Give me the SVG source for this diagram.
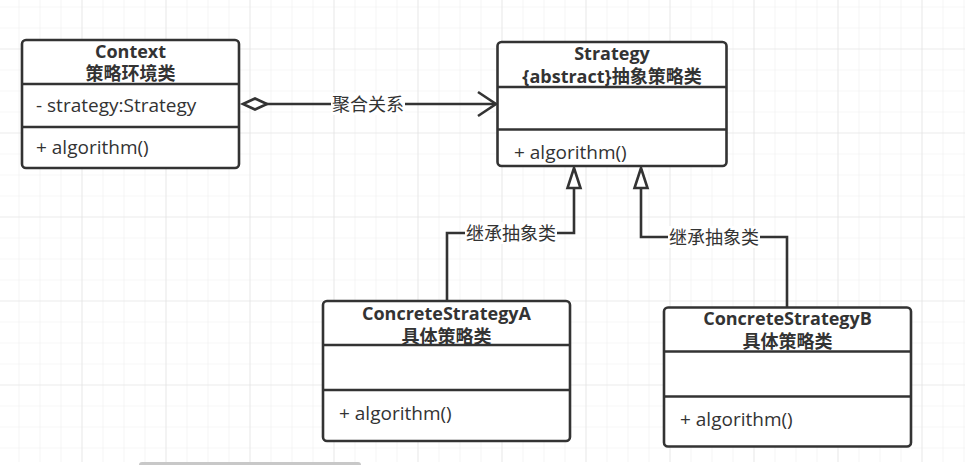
<svg xmlns="http://www.w3.org/2000/svg" width="965" height="465" viewBox="0 0 965 465">
<defs>
<pattern id="minor" x="18.5" y="6.5" width="21" height="21" patternUnits="userSpaceOnUse">
<path d="M0 0V21M0 0H21" fill="none" stroke="#efefef" stroke-width="1.2"/>
</pattern>
<pattern id="major" x="81.5" y="48.5" width="84" height="84" patternUnits="userSpaceOnUse">
<path d="M0 0V84M0 0H84" fill="none" stroke="#e2e2e2" stroke-width="1.2"/>
</pattern>
</defs>
<style>
.box{fill:#fff;stroke:#333;stroke-width:2.6}
.div{stroke:#333;stroke-width:2.6}
.t{font-family:"Open Sans","Noto Sans CJK SC",sans-serif;font-size:19px;fill:#333}
.b{font-weight:bold;text-anchor:middle;font-size:18px}
.conn{fill:none;stroke:#333;stroke-width:2.6}
.lbl{font-family:"Noto Sans CJK SC",sans-serif;font-size:18px;fill:#333;text-anchor:middle}
</style>
<rect width="965" height="465" fill="#fff"/>
<rect width="965" height="462" fill="url(#minor)"/>
<rect width="965" height="462" fill="url(#major)"/>
<rect x="139" y="462" width="222" height="6" rx="3" fill="#c8c8c8"/>

<g id="connectors">
<g id="aggregation">
<line class="conn" x1="266" y1="104" x2="496" y2="104"/>
<path d="M243 104 L255 98.5 L267 104 L255 109.5 Z" fill="#fff" stroke="#333" stroke-width="2.6"/>
<path class="conn" d="M478 92 L496 104 L478 116"/>
<rect x="331" y="93" width="74" height="22" fill="#fff"/>
<text class="lbl" x="368" y="110.5">聚合关系</text>
</g>
<g id="inheritA">
<path class="conn" d="M447 301 V233 H574 V188"/>
<path d="M574 168 L580.5 188 L567.5 188 Z" fill="#fff" stroke="#333" stroke-width="2.6"/>
<rect x="465" y="222" width="92" height="22" fill="#fff"/>
<text class="lbl" x="511" y="239.5">继承抽象类</text>
</g>
<g id="inheritB">
<path class="conn" d="M787 307 V237 H641 V188"/>
<path d="M641 168 L647.5 188 L634.5 188 Z" fill="#fff" stroke="#333" stroke-width="2.6"/>
<rect x="668" y="226" width="92" height="22" fill="#fff"/>
<text class="lbl" x="714" y="243.5">继承抽象类</text>
</g>
</g>

<g id="context">
<rect class="box" x="22" y="40" width="217" height="128" rx="4"/>
<line class="div" x1="22" y1="84" x2="239" y2="84"/>
<line class="div" x1="22" y1="127" x2="239" y2="127"/>
<text class="t b" x="130.5" y="58">Context</text>
<text class="t b" x="130.5" y="80">策略环境类</text>
<text class="t" x="36" y="112">- strategy:Strategy</text>
<text class="t" x="36" y="154">+ algorithm()</text>
</g>

<g id="strategy">
<rect class="box" x="497.5" y="42" width="229" height="124" rx="4"/>
<line class="div" x1="497.5" y1="87" x2="726.5" y2="87"/>
<line class="div" x1="497.5" y1="129.5" x2="726.5" y2="129.5"/>
<text class="t b" x="612" y="60">Strategy</text>
<text class="t b" x="612" y="83">{abstract}抽象策略类</text>
<text class="t" x="514" y="158.5">+ algorithm()</text>
</g>

<g id="concreteA">
<rect class="box" x="323" y="301" width="247" height="140" rx="4"/>
<line class="div" x1="323" y1="345" x2="570" y2="345"/>
<line class="div" x1="323" y1="390" x2="570" y2="390"/>
<text class="t b" x="446.5" y="320">ConcreteStrategyA</text>
<text class="t b" x="446.5" y="343">具体策略类</text>
<text class="t" x="339" y="420">+ algorithm()</text>
</g>

<g id="concreteB">
<rect class="box" x="664" y="307.5" width="247" height="139" rx="4"/>
<line class="div" x1="664" y1="351.5" x2="911" y2="351.5"/>
<line class="div" x1="664" y1="396.5" x2="911" y2="396.5"/>
<text class="t b" x="787.5" y="324.5">ConcreteStrategyB</text>
<text class="t b" x="787.5" y="348">具体策略类</text>
<text class="t" x="680" y="426">+ algorithm()</text>
</g>
</svg>
